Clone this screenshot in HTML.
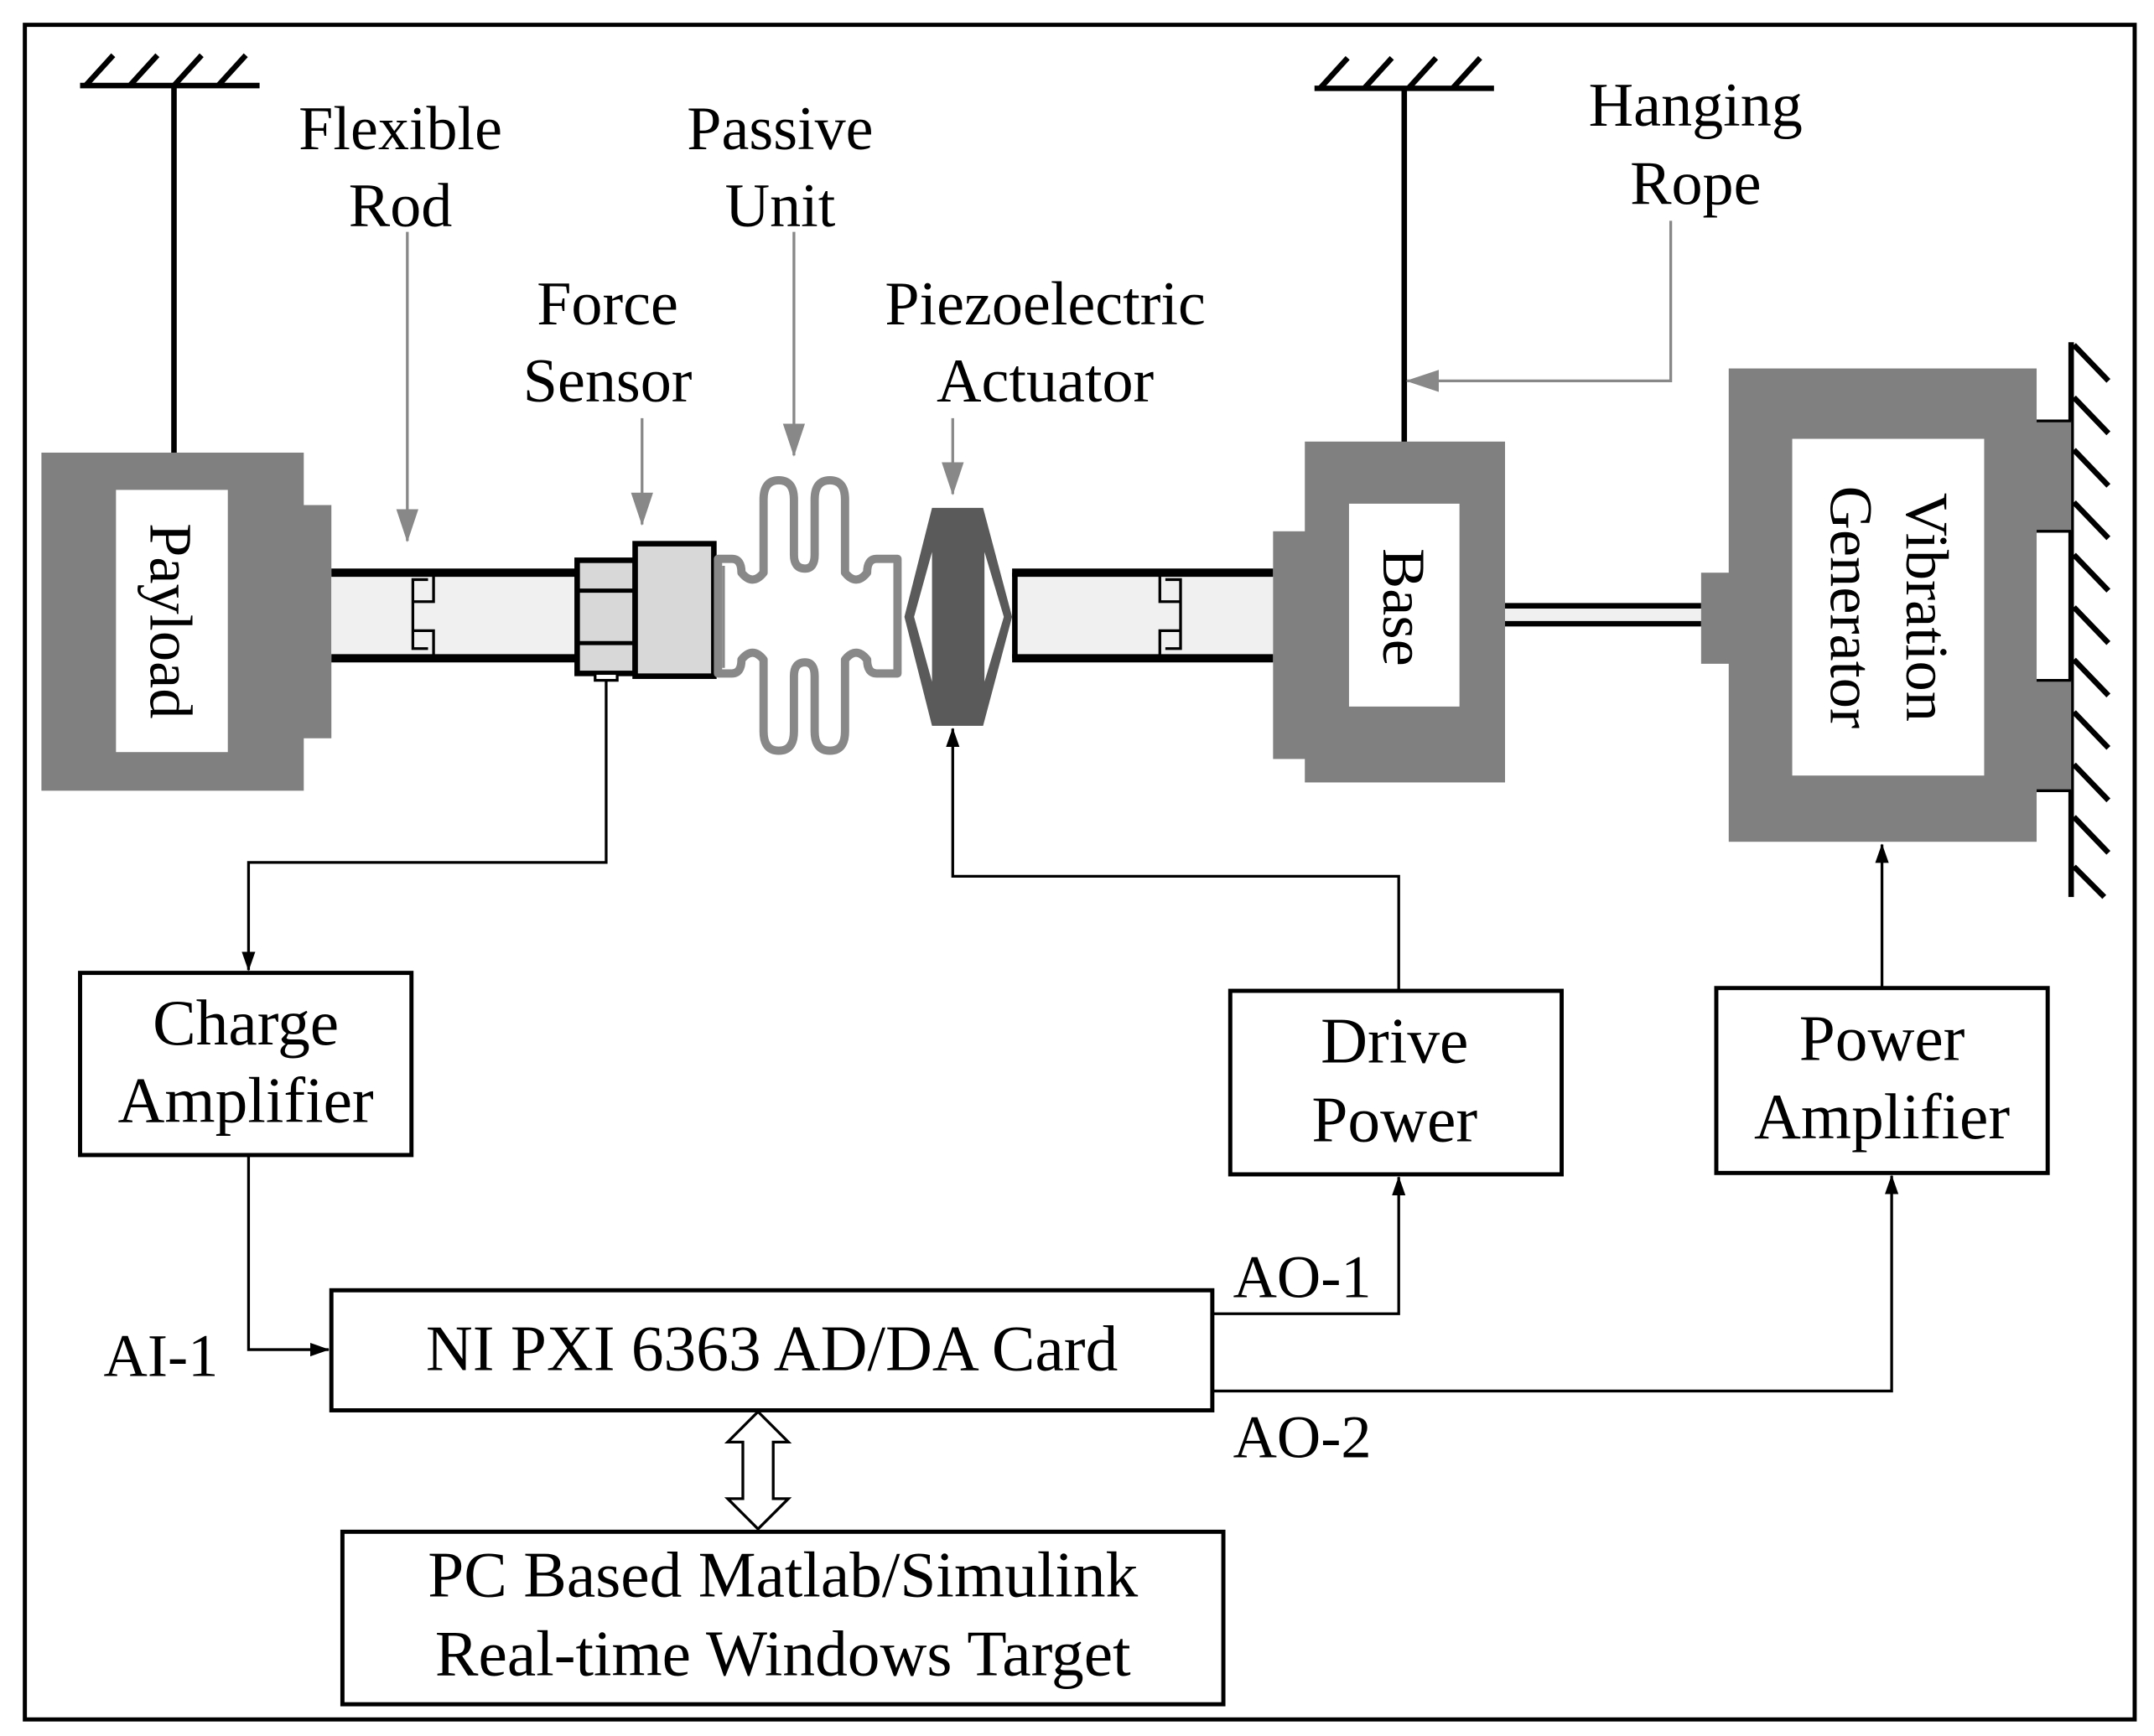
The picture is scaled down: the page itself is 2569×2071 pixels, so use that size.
<!DOCTYPE html>
<html><head><meta charset="utf-8"><style>
html,body{margin:0;padding:0;background:#fff}
svg{display:block}
text{font-family:"Liberation Serif",serif;fill:#000}
</style></head><body>
<svg width="2569" height="2071" viewBox="0 0 1560 1258" preserveAspectRatio="none" xmlns="http://www.w3.org/2000/svg">
<defs>
<marker id="ab" markerWidth="14" markerHeight="20" refX="19" refY="7" orient="auto" markerUnits="userSpaceOnUse" viewBox="0 0 20 14"><path d="M0,0 L20,7 L0,14 z" fill="#000"/></marker>
<marker id="ag" markerWidth="24" markerHeight="16" refX="23" refY="8" orient="auto" markerUnits="userSpaceOnUse" viewBox="0 0 24 16"><path d="M0,0 L24,8 L0,16 z" fill="#888"/></marker>
</defs>
<rect x="18" y="18" width="1528" height="1228" fill="none" stroke="#000" stroke-width="3"/>

<g stroke="#000" stroke-width="4" fill="none">
<line x1="58" y1="62" x2="188" y2="62"/>
<line x1="62" y1="62" x2="82" y2="40"/><line x1="94" y1="62" x2="114" y2="40"/><line x1="126" y1="62" x2="146" y2="40"/><line x1="158" y1="62" x2="178" y2="40"/>
<line x1="126" y1="62" x2="126" y2="330"/>
<line x1="952" y1="64" x2="1082" y2="64"/>
<line x1="956" y1="64" x2="976" y2="42"/><line x1="988" y1="64" x2="1008" y2="42"/><line x1="1020" y1="64" x2="1040" y2="42"/><line x1="1052" y1="64" x2="1072" y2="42"/>
<line x1="1017" y1="64" x2="1017" y2="322"/>
<line x1="1500" y1="248" x2="1500" y2="650"/>
</g>
<g stroke="#000" stroke-width="4">
<line x1="1502" y1="250" x2="1527" y2="276"/><line x1="1502" y1="288" x2="1527" y2="314"/><line x1="1502" y1="326" x2="1527" y2="352"/><line x1="1502" y1="364" x2="1527" y2="390"/><line x1="1502" y1="402" x2="1527" y2="428"/><line x1="1502" y1="440" x2="1527" y2="466"/><line x1="1502" y1="478" x2="1527" y2="504"/><line x1="1502" y1="516" x2="1527" y2="542"/><line x1="1502" y1="554" x2="1527" y2="580"/><line x1="1502" y1="592" x2="1527" y2="618"/><line x1="1502" y1="628" x2="1524" y2="650"/>
</g>

<rect x="30" y="328" width="190" height="245" fill="#808080"/>
<rect x="218" y="366" width="22" height="169" fill="#808080"/>
<rect x="84" y="355" width="81" height="190" fill="#fff"/>
<text transform="translate(109,450) rotate(90)" font-size="44" text-anchor="middle">Payload</text>

<rect x="240" y="415" width="177" height="62" fill="#f0f0f0"/>
<line x1="240" y1="415" x2="417" y2="415" stroke="#000" stroke-width="6"/>
<line x1="240" y1="477" x2="417" y2="477" stroke="#000" stroke-width="6"/>
<g fill="none" stroke="#000" stroke-width="2">
<polyline points="314,417 314,436 299,436"/><polyline points="310,420 299,420 299,470 310,470"/><polyline points="314,477 314,457 299,457"/>
</g>
<rect x="733" y="415" width="189" height="62" fill="#f0f0f0"/>
<line x1="733" y1="415" x2="922" y2="415" stroke="#000" stroke-width="6"/>
<line x1="733" y1="477" x2="922" y2="477" stroke="#000" stroke-width="6"/>
<line x1="735" y1="415" x2="735" y2="477" stroke="#000" stroke-width="4"/>
<g fill="none" stroke="#000" stroke-width="2">
<polyline points="840,417 840,436 855,436"/><polyline points="844,420 855,420 855,470 844,470"/><polyline points="840,477 840,457 855,457"/>
</g>

<rect x="418" y="406" width="42" height="82" fill="#d8d8d8" stroke="#000" stroke-width="4"/>
<line x1="418" y1="428" x2="460" y2="428" stroke="#000" stroke-width="3"/>
<line x1="418" y1="466" x2="460" y2="466" stroke="#000" stroke-width="3"/>
<rect x="460" y="394" width="57" height="96" fill="#d8d8d8" stroke="#000" stroke-width="4"/>
<rect x="431" y="488" width="16" height="5" fill="#fff" stroke="#000" stroke-width="2"/>

<g fill="none" stroke="#888" stroke-width="6" stroke-linejoin="round">
<path d="M520,405 L530,405 Q537,405 537,415 Q545,425 553,415 L553,362 Q553,348 564,348 Q575,348 575,362 L575,402 Q575,412 583,412 Q590,412 590,402 L590,362 Q590,348 601,348 Q612,348 612,362 L612,415 Q620,425 628,415 Q628,405 635,405 L650,405 L650,488 L635,488 Q628,488 628,478 Q620,468 612,478 L612,530 Q612,544 601,544 Q590,544 590,530 L590,490 Q590,480 583,480 Q575,480 575,490 L575,530 Q575,544 564,544 Q553,544 553,530 L553,478 Q545,468 537,478 Q537,488 530,488 L520,488 Z"/>
</g>
<line x1="524" y1="410" x2="524" y2="484" stroke="#888" stroke-width="2"/>

<polygon points="655,447 675,368 712,368 733,447 712,526 675,526" fill="#5a5a5a"/>
<polygon points="662,447 675,400 675,494" fill="#fff"/>
<polygon points="727,447 713,400 713,494" fill="#fff"/>

<rect x="945" y="320" width="145" height="247" fill="#808080"/>
<rect x="922" y="385" width="25" height="165" fill="#808080"/>
<rect x="977" y="365" width="80" height="147" fill="#fff"/>
<text transform="translate(1002,440) rotate(90)" font-size="44" text-anchor="middle">Base</text>

<rect x="1090" y="439" width="142" height="13" fill="#f0f0f0"/>
<line x1="1090" y1="439" x2="1232" y2="439" stroke="#000" stroke-width="4"/>
<line x1="1090" y1="452" x2="1232" y2="452" stroke="#000" stroke-width="4"/>

<rect x="1252" y="267" width="223" height="343" fill="#808080"/>
<rect x="1232" y="415" width="22" height="66" fill="#808080"/>
<rect x="1473" y="305" width="27" height="80" fill="#808080"/>
<rect x="1473" y="493" width="27" height="80" fill="#808080"/>
<line x1="1475" y1="305" x2="1500" y2="305" stroke="#000" stroke-width="2"/>
<line x1="1475" y1="385" x2="1500" y2="385" stroke="#000" stroke-width="2"/>
<line x1="1475" y1="493" x2="1500" y2="493" stroke="#000" stroke-width="2"/>
<line x1="1475" y1="573" x2="1500" y2="573" stroke="#000" stroke-width="2"/>
<rect x="1298" y="318" width="139" height="244" fill="#fff"/>
<text transform="translate(1381,440) rotate(90)" font-size="44" text-anchor="middle">Vibration</text>
<text transform="translate(1326,440) rotate(90)" font-size="44" text-anchor="middle">Generator</text>

<g font-size="45" text-anchor="middle">
<text x="290" y="108">Flexible</text><text x="290" y="164">Rod</text>
<text x="565" y="108">Passive</text><text x="565" y="164">Unit</text>
<text x="440" y="235">Force</text><text x="440" y="291">Sensor</text>
<text x="757" y="235">Piezoelectric</text><text x="757" y="291">Actuator</text>
<text x="1228" y="91">Hanging</text><text x="1228" y="148">Rope</text>
</g>
<g stroke="#888" stroke-width="2" fill="none">
<line x1="295" y1="168" x2="295" y2="392" marker-end="url(#ag)"/>
<line x1="575" y1="168" x2="575" y2="330" marker-end="url(#ag)"/>
<line x1="465" y1="303" x2="465" y2="380" marker-end="url(#ag)"/>
<line x1="690" y1="303" x2="690" y2="358" marker-end="url(#ag)"/>
<polyline points="1210,160 1210,276 1019,276" marker-end="url(#ag)"/>
</g>

<g fill="#fff" stroke="#000" stroke-width="3">
<rect x="58" y="705" width="240" height="132"/>
<rect x="891" y="718" width="240" height="133"/>
<rect x="1243" y="716" width="240" height="134"/>
<rect x="240" y="935" width="638" height="87"/>
<rect x="248" y="1110" width="638" height="125"/>
</g>
<g font-size="47" text-anchor="middle">
<text x="178" y="757">Charge</text><text x="178" y="813">Amplifier</text>
<text x="1010" y="770">Drive</text><text x="1010" y="827">Power</text>
<text x="1363" y="768">Power</text><text x="1363" y="825">Amplifier</text>
<text x="559" y="993">NI PXI 6363 AD/DA Card</text>
<text x="567" y="1157">PC Based Matlab/Simulink</text>
<text x="567" y="1214">Real-time Windows Target</text>
</g>
<g font-size="44">
<text x="75" y="997">AI-1</text>
<text x="893" y="940">AO-1</text>
<text x="893" y="1056">AO-2</text>
</g>

<g stroke="#000" stroke-width="2" fill="none">
<polyline points="439,493 439,625 180,625 180,703" marker-end="url(#ab)"/>
<polyline points="180,837 180,978 238,978" marker-end="url(#ab)"/>
<polyline points="878,952 1013,952 1013,853" marker-end="url(#ab)"/>
<polyline points="1013,718 1013,635 690,635 690,528" marker-end="url(#ab)"/>
<polyline points="1363,716 1363,612" marker-end="url(#ab)"/>
<polyline points="878,1008 1370,1008 1370,852" marker-end="url(#ab)"/>
</g>
<polygon points="549,1023 571,1045 560,1045 560,1086 571,1086 549,1108 527,1086 538,1086 538,1045 527,1045" fill="#fff" stroke="#000" stroke-width="2"/>
</svg>
</body></html>
